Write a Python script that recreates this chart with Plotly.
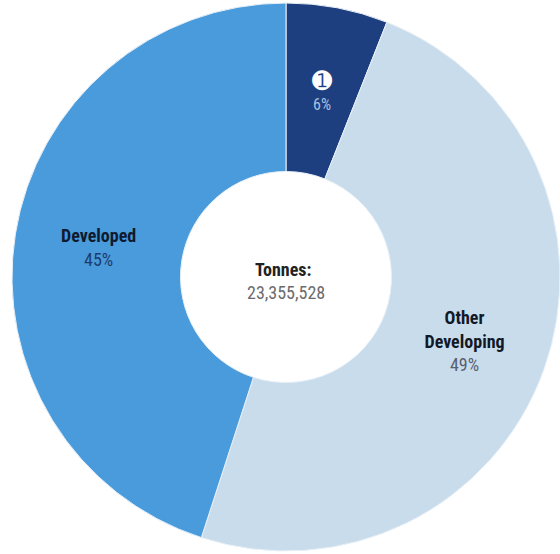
import math
import plotly.graph_objects as go

# Shares of total tonnage by group (percent), clockwise from 12 o'clock
groups = ["1", "Other Developing", "Developed"]
shares = [6, 49, 45]
display_names = [
    "<span style='font-size:24px'>➊</span>",
    "<b>Other<br>Developing</b>",
    "<b>Developed</b>",
]
slice_colors = ["#1d3f80", "#c9dcec", "#4a9bdb"]
name_colors = ["#ffffff", "#121826", "#0f1a2e"]
pct_colors = ["#a8bfe0", "#56606e", "#1c3d6e"]
total_tonnes = 23355528

W, H = 560, 554
HOLE = 0.385
DOM_X = [12 / W, 1.0]
DOM_Y = [0.0, 1.0]

FONT = "Roboto Condensed, Liberation Sans Narrow, Arial Narrow, Roboto, sans-serif"

labels_text = [
    f"{n}<br><span style='color:{pc}'>{v}%</span>"
    for n, v, pc in zip(display_names, shares, pct_colors)
]

# The narrow first slice gets its label placed on the ring's mid-radius
# (plotly would push it toward the outer edge); the rest are drawn inside.
slice_text = [""] + labels_text[1:]

fig = go.Figure(
    go.Pie(
        labels=groups,
        values=shares,
        text=slice_text,
        textinfo="text",
        textposition="inside",
        insidetextorientation="horizontal",
        insidetextfont=dict(family=FONT, size=18, color=name_colors),
        marker=dict(colors=slice_colors, line=dict(color="#e8f0f8", width=1)),
        hole=HOLE,
        sort=False,
        direction="clockwise",
        rotation=0,
        domain=dict(x=DOM_X, y=DOM_Y),
        hoverinfo="skip",
        showlegend=False,
    )
)

# geometry of the pie in pixels, derived from its domain
cx = (DOM_X[0] + DOM_X[1]) / 2 * W
cy = (1 - (DOM_Y[0] + DOM_Y[1]) / 2) * H
r_out = min((DOM_X[1] - DOM_X[0]) * W, (DOM_Y[1] - DOM_Y[0]) * H) / 2
r_mid = r_out * (1 + HOLE) / 2
mid_angle = math.radians(shares[0] / sum(shares) * 360 / 2)
lx = cx + r_mid * math.sin(mid_angle)
ly = cy - r_mid * math.cos(mid_angle)

fig.add_annotation(
    x=lx / W, y=1 - ly / H, xref="paper", yref="paper",
    xanchor="center", yanchor="middle",
    text=labels_text[0], showarrow=False,
    font=dict(family=FONT, size=16, color=name_colors[0]),
)

fig.add_annotation(
    x=0.505, y=0.513, xref="paper", yref="paper",
    xanchor="center", yanchor="middle",
    text="<b>Tonnes:</b>", showarrow=False,
    font=dict(family=FONT, size=18, color="#222222"),
)
fig.add_annotation(
    x=0.51, y=0.472, xref="paper", yref="paper",
    xanchor="center", yanchor="middle",
    text=f"{total_tonnes:,}", showarrow=False,
    font=dict(family=FONT, size=18, color="#6b6b6b"),
)

fig.update_layout(
    width=W, height=H,
    margin=dict(l=0, r=0, t=0, b=0),
    paper_bgcolor="#ffffff",
    plot_bgcolor="#ffffff",
    uniformtext=dict(minsize=18, mode="show"),
)

fig.write_html("out.html")
